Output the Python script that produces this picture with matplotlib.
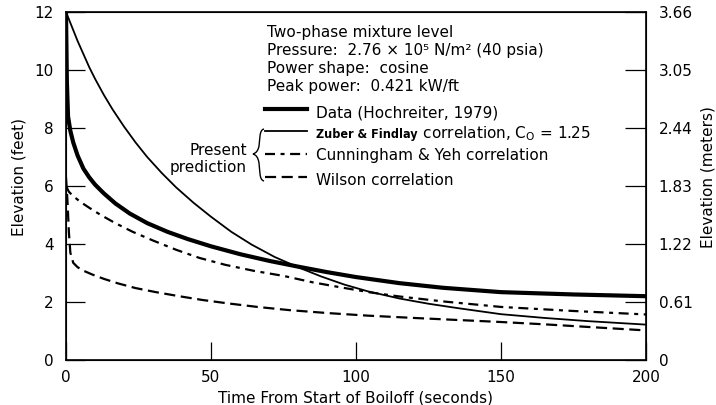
import matplotlib
matplotlib.use('Agg')
import matplotlib.pyplot as plt
from matplotlib.lines import Line2D
from matplotlib.path import Path
from matplotlib.patches import PathPatch

plt.rcParams['font.family'] = ['DejaVu Sans']
plt.rcParams['font.size'] = 11

# curves: time (s) vs elevation (ft)
data_t = [0, 0.3, 0.7, 1.5, 2.5, 4, 6, 8, 10, 13, 17, 22, 28, 35, 42, 50, 60, 70, 80, 90, 100,
          115, 130, 150, 175, 200]
data_y = [12, 9.6, 8.4, 7.9, 7.5, 7.05, 6.6, 6.3, 6.05, 5.75, 5.4, 5.05, 4.72, 4.42, 4.17, 3.92,
          3.65, 3.42, 3.22, 3.03, 2.86, 2.65, 2.49, 2.34, 2.26, 2.2]

zuber_t = [0, 2, 4, 6, 8, 10, 13, 16, 20, 24, 28, 33, 38, 44, 50, 57, 64, 72, 80, 88, 96, 104,
           115, 125, 135, 150, 165, 180, 200]
zuber_y = [12, 11.5, 11.0, 10.55, 10.1, 9.7, 9.15, 8.65, 8.05, 7.5, 7.0, 6.45, 5.95, 5.42, 4.94,
           4.42, 3.98, 3.55, 3.2, 2.88, 2.6, 2.37, 2.12, 1.94, 1.79, 1.58, 1.45, 1.34, 1.22]

cunn_t = [0, 1, 2.5, 5, 8, 12, 17, 23, 30, 38, 46, 55, 65, 75, 85, 95, 105, 115, 130, 150, 175, 200]
cunn_y = [6.0, 5.8, 5.65, 5.45, 5.25, 5.0, 4.72, 4.42, 4.12, 3.8, 3.52, 3.28, 3.07, 2.9, 2.68,
          2.5, 2.33, 2.19, 2.02, 1.83, 1.69, 1.57]

wilson_t = [0, 0.5, 1, 1.5, 2.5, 4, 6, 9, 13, 18, 24, 31, 39, 47, 56, 66, 77, 90, 104, 120, 135,
            150, 165, 180, 200]
wilson_y = [6.3, 5.5, 4.4, 3.7, 3.35, 3.2, 3.08, 2.95, 2.8, 2.64, 2.48, 2.34, 2.2, 2.07, 1.95,
            1.83, 1.72, 1.62, 1.53, 1.45, 1.38, 1.31, 1.23, 1.14, 1.02]

x_ticks = [0, 50, 100, 150, 200]
ft_ticks = [0, 2, 4, 6, 8, 10, 12]
m_labels = ['0', '0.61', '1.22', '1.83', '2.44', '3.05', '3.66']

header = ['Two-phase mixture level',
          'Pressure:  2.76 \u00d7 10\u2075 N/m\u00b2 (40 psia)',
          'Power shape:  cosine',
          'Peak power:  0.421 kW/ft']
labels = ['Data (Hochreiter, 1979)',
          r' correlation, C$_{\mathregular{O}}$ = 1.25',
          'Cunningham & Yeh correlation',
          'Wilson correlation']
bold_part = 'Zuber & Findlay'

styles = [dict(lw=3.0),
          dict(lw=1.3),
          dict(lw=1.6, dashes=(4.5, 2.5, 1.8, 2.5)),
          dict(lw=1.6, dashes=(5, 2.5))]

W, H = 716, 405
def fx(x):
    return x / W
def fy(y):
    return 1 - y / H

fig = plt.figure(figsize=(7.16, 4.05), dpi=100)
ax = fig.add_axes([fx(66), fy(360), (646 - 66) / W, (360 - 12) / H])

series = [(data_t, data_y), (zuber_t, zuber_y), (cunn_t, cunn_y), (wilson_t, wilson_y)]
for (t, y), st in zip(series, styles):
    ax.plot(t, y, color='k', **st)

ax.set_xlim(0, 200)
ax.set_ylim(0, 12)
ax.set_xticks(x_ticks)
ax.set_yticks(ft_ticks)
for s in ax.spines.values():
    s.set_linewidth(1.2)
ax.tick_params(axis='y', direction='in', length=14, width=0.9, pad=9)
ax.tick_params(axis='x', direction='in', length=13, width=0.9, pad=7)

ax2 = ax.twinx()
ax2.set_ylim(0, 12)
ax2.set_yticks(ft_ticks)
ax2.set_yticklabels(m_labels)
ax2.tick_params(axis='y', direction='in', length=15, width=0.9, pad=9)

ax.set_xlabel('Time From Start of Boiloff (seconds)')
ax.set_ylabel('Elevation (feet)')
ax2.set_ylabel('Elevation (meters)')
ax.xaxis.label.set_va('center')
ax.yaxis.label.set_va('center')
ax2.yaxis.label.set_va('center')
ax.xaxis.set_label_coords(0.5, -0.108)
ax.yaxis.set_label_coords(-0.081, 0.526)
ax2.yaxis.set_label_coords(1.107, 0.526)

# annotation block
for txt, yb in zip(header, [37, 55, 73, 91]):
    fig.text(fx(267), fy(yb), txt, va='baseline', ha='left')

renderer = fig.canvas.get_renderer()
for i, (lab, st, ys, yb) in enumerate(zip(labels, styles, [109, 131, 154, 177], [117, 138, 160, 185])):
    fig.add_artist(Line2D([fx(265), fx(307)], [fy(ys), fy(ys)],
                          transform=fig.transFigure, color='k', **st))
    x0 = 316
    if i == 1:
        b = fig.text(fx(x0), fy(yb), bold_part, va='baseline', ha='left',
                     fontweight='bold', fontsize=9, fontstretch='condensed')
        x0 = b.get_window_extent(renderer).x1
    fig.text(fx(x0), fy(yb), lab, va='baseline', ha='left')

fig.text(fx(247), fy(155), 'Present', ha='right', va='baseline')
fig.text(fx(247), fy(172), 'prediction', ha='right', va='baseline')

# brace
pts = [(264, 129), (259, 130), (260, 140), (259, 146),
       (258, 151), (256, 153), (253, 154),
       (256, 155), (258, 157), (259, 163),
       (260, 170), (259, 180), (264, 181)]
codes = [Path.MOVETO] + [Path.CURVE4] * 12
brace = Path([(fx(x), fy(y)) for x, y in pts], codes)
fig.add_artist(PathPatch(brace, transform=fig.transFigure, fill=False, lw=1.0, color='k'))

fig.savefig('out.png', dpi=100)
